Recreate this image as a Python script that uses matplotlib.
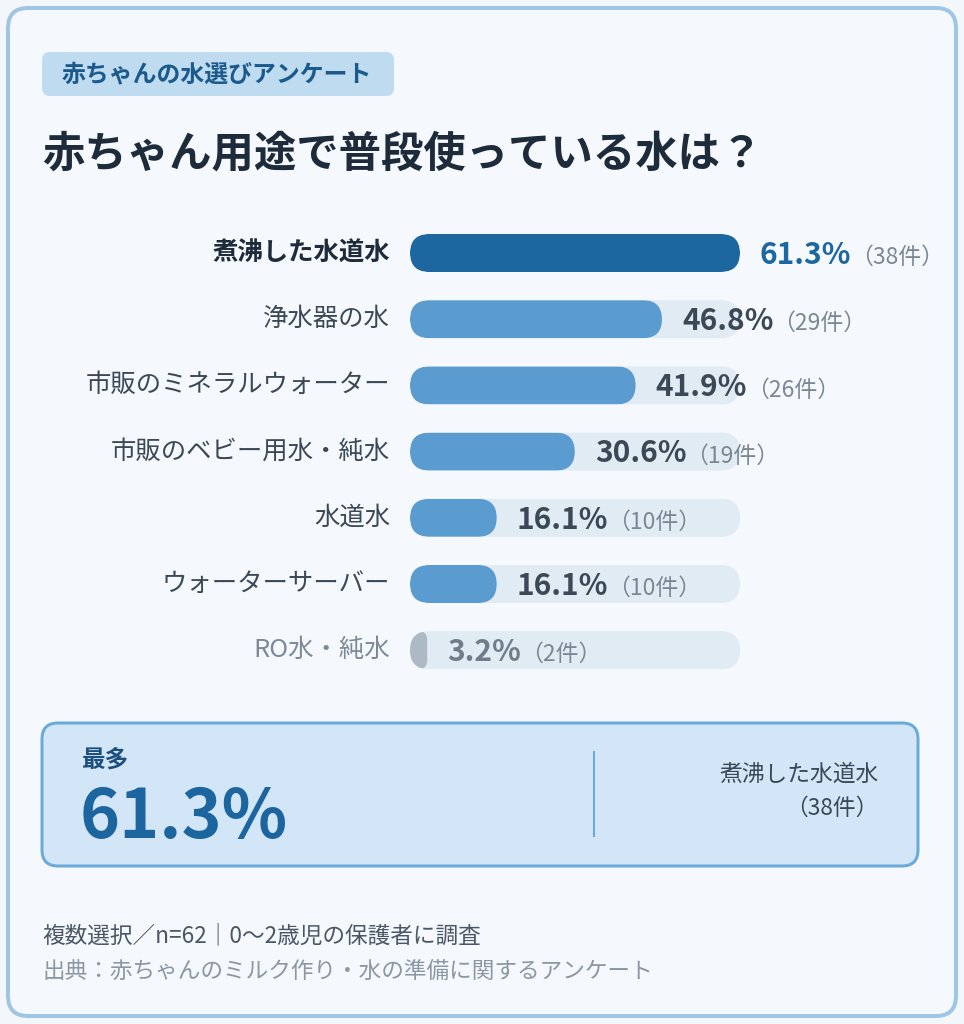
import matplotlib
matplotlib.use("Agg")
import matplotlib.pyplot as plt
from matplotlib.patches import FancyBboxPatch

plt.rcParams['font.family'] = ['Noto Sans CJK JP', 'DejaVu Sans']

# ---------------- data ----------------
categories = ["煮沸した水道水", "浄水器の水", "市販のミネラルウォーター",
              "市販のベビー用水・純水", "水道水", "ウォーターサーバー", "RO水・純水"]
percents = [61.3, 46.8, 41.9, 30.6, 16.1, 16.1, 3.2]
counts = [38, 29, 26, 19, 10, 10, 2]
tag_text = "赤ちゃんの水選びアンケート"
title_text = "赤ちゃん用途で普段使っている水は？"
summary_label = "最多"
footer_note = "複数選択／n=62｜0〜2歳児の保護者に調査"
footer_source = "出典：赤ちゃんのミルク作り・水の準備に関するアンケート"

# ---------------- layout ----------------
W, H = 964, 1024
PT = 0.72  # points per pixel at dpi 100

fig = plt.figure(figsize=(W / 100, H / 100), dpi=100)
fig.patch.set_facecolor('#f3f7fb')

bg = fig.add_axes([0, 0, 1, 1])
bg.set_xlim(0, W)
bg.set_ylim(H, 0)
bg.axis('off')


def rbox(ax, x, y, w, h, r, fc, ec='none', lw=0, z=1):
    p = FancyBboxPatch((x, y), w, h, boxstyle=f"round,pad=0,rounding_size={r}",
                       fc=fc, ec=ec, lw=lw, zorder=z)
    ax.add_patch(p)
    return p


# card
rbox(bg, 8, 8, 948, 1008, 20, '#f5f9fd', '#a0c6e5', 4 * PT)

# tag
rbox(bg, 42, 52, 352, 44, 8, '#bedbf0', z=2)
bg.text(62, 74, tag_text, ha='left', va='center', fontsize=17.2, weight='bold',
        color='#1c5a8c', zorder=3)

# title
bg.text(42, 155, title_text, ha='left', va='center', fontsize=30.5, weight='bold',
        color='#1e2b3a', zorder=3)

# ---------------- bars ----------------
n = len(categories)
px_left, px_right = 410, 740
row0, row_step = 253, 66.2
bar_px = 38
top = row0 - row_step / 2
bottom = row0 + row_step * (n - 0.5)
ax = fig.add_axes([px_left / W, 1 - bottom / H, (px_right - px_left) / W, (bottom - top) / H])
xmax = max(percents)
ax.set_xlim(0, xmax)
ax.set_ylim(n - 0.5, -0.5)
ax.axis('off')
ax.patch.set_alpha(0)

xu_per_px = xmax / (px_right - px_left)
yu_per_px = 1 / row_step
aspect = yu_per_px / xu_per_px
hb = bar_px * yu_per_px
r_x = (bar_px / 2) * xu_per_px


def pill(x0, yc, w, color, z, clip=None):
    r = min(r_x, w / 2)
    p = FancyBboxPatch((x0, yc - hb / 2), w, hb,
                       boxstyle=f"round,pad=0,rounding_size={r}",
                       mutation_aspect=aspect, fc=color, ec='none', zorder=z)
    ax.add_patch(p)
    if clip is not None:
        p.set_clip_path(clip)
    return p


val_fs = 21.5
cnt_fs = 16.5
lab_fs = 18.3
for i, (cat, v, c) in enumerate(zip(categories, percents, counts)):
    if i == 0:
        bar_col, lab_col, val_col, lab_w = '#1c679f', '#1e2b3a', '#1c679f', 'bold'
    elif v < 5:
        bar_col, lab_col, val_col, lab_w = '#adbac6', '#7c8a97', '#6f7d8b', 'normal'
    else:
        bar_col, lab_col, val_col, lab_w = '#5a9bd0', '#3b4856', '#3b4856', 'normal'
    track = pill(0, i, xmax, '#e1ebf3', 1)
    pill(0, i, v, bar_col, 2, clip=track)
    ax.annotate(cat, xy=(0, i), xytext=(-20 * PT, 0), textcoords='offset points',
                ha='right', va='center', fontsize=lab_fs, weight=lab_w, color=lab_col,
                annotation_clip=False)
    cap = 0.365 * val_fs
    t = ax.annotate(f"{v:.1f}%", xy=(v, i), xytext=(20 * PT, -cap), textcoords='offset points',
                    ha='left', va='baseline', fontsize=val_fs, weight='bold', color=val_col,
                    annotation_clip=False, zorder=4)
    ax.annotate(f"（{c}件）", xy=(1, i), xycoords=(t, 'data'), xytext=(-1, -cap),
                textcoords='offset points', ha='left', va='baseline', fontsize=cnt_fs,
                color='#7b8894', annotation_clip=False, zorder=4)

# ---------------- summary box ----------------
top_i = max(range(n), key=lambda k: percents[k])
rbox(bg, 42, 723, 876, 143, 16, '#d2e6f8', '#6aaad9', 3 * PT, z=2)
bg.text(82, 760, summary_label, ha='left', va='center', fontsize=17, weight='bold',
        color='#1d4f7c', zorder=3)
bg.text(80, 838, f"{percents[top_i]:.1f}%", ha='left', va='baseline', fontsize=49,
        weight='bold', color='#1c659f', zorder=3)
bg.plot([594, 594], [752, 836], color='#6aaad9', lw=1.5, zorder=3)
bg.text(879, 774, categories[top_i], ha='right', va='center', fontsize=16.4,
        color='#3b4856', zorder=3)
bg.text(879, 808, f"（{counts[top_i]}件）", ha='right', va='center', fontsize=16.4,
        color='#3b4856', zorder=3)

# ---------------- footer ----------------
bg.text(42, 936, footer_note, ha='left', va='center', fontsize=16.3, color='#4b5765', zorder=3)
bg.text(42, 971, footer_source, ha='left', va='center', fontsize=16.3, color='#8b97a3', zorder=3)

fig.savefig("out.png", dpi=100, facecolor=fig.get_facecolor())
